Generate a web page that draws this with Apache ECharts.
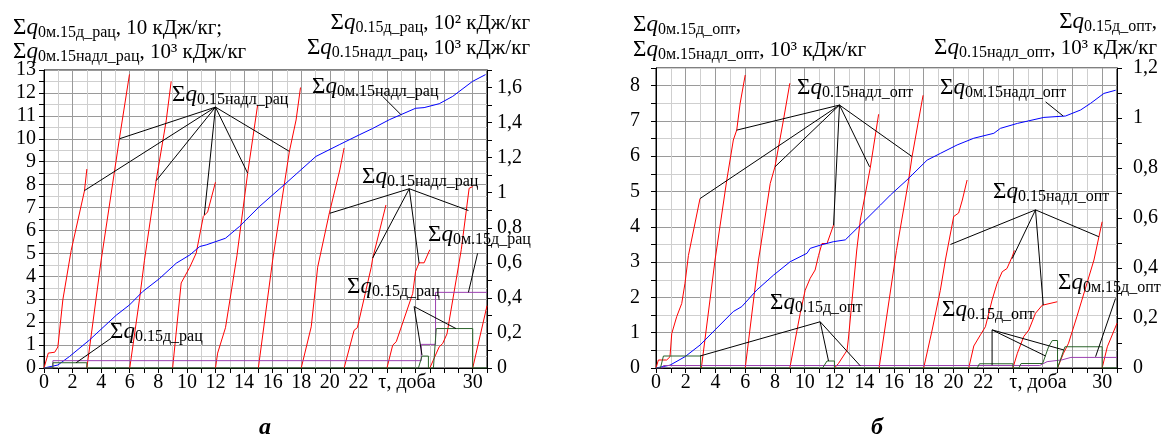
<!DOCTYPE html>
<html>
<head>
<meta charset="utf-8">
<script src="https://cdn.jsdelivr.net/npm/echarts@6/dist/echarts.min.js"></script>
<style>
html, body { margin: 0; padding: 0; background: #fff; }
#chart { width: 1165px; height: 440px; }
</style>
</head>
<body>
<div id="chart"></div>
<script>
const FONT = '"Liberation Serif", "DejaVu Serif", serif';

// підписи осі τ, що показані (24–28 замінено на "τ, доба")
const xShown = [0, 2, 4, 6, 8, 10, 12, 14, 16, 18, 20, 22, 30];

// ---------- панель а (рац) ----------
// Σq0.15надл_рац, 10^3 кДж/кг (права вісь), по відрізках по 3 доби
const redA = [
  [[0, 0], [0.3, 0.085], [0.75, 0.09], [0.97, 0.12], [1.32, 0.39], [1.9, 0.67], [2.83, 1.01], [3.0, 1.135]],
  [[3, 0], [4, 0.615], [5.28, 1.31], [5.98, 1.675]],
  [[6, 0], [6.68, 0.39], [7.03, 0.615], [7.85, 1.07], [8.55, 1.41], [8.9, 1.635]],
  [[9, 0], [9.6, 0.485], [10.2, 0.575], [10.65, 0.655], [11.15, 0.865], [11.45, 0.89], [12.0, 1.06]],
  [[12, 0], [12.15, 0.085], [12.7, 0.23], [13.2, 0.485], [13.5, 0.64], [14.25, 1.11], [14.95, 1.5]],
  [[15, 0], [16, 0.615], [17.17, 1.235], [17.64, 1.415], [17.95, 1.6]],
  [[18, 0], [18.7, 0.235], [19.15, 0.575], [19.97, 0.885], [20.7, 1.13], [21, 1.255]],
  [[21, 0], [21.7, 0.215], [21.93, 0.23], [22.9, 0.575], [23.0, 0.625], [23.93, 0.93]],
  [[24, 0], [24.4, 0.13], [24.65, 0.15], [25.8, 0.425], [26.0, 0.55], [26.25, 0.6], [26.6, 0.6], [27, 0.675]],
  [[27, 0], [27.65, 0.12], [27.9, 0.14], [28.2, 0.195], [29.2, 0.675], [29.75, 1.025], [30, 1.035]],
  [[30, 0], [31, 0.355]]
];
// Σq0м.15надл_рац, 10^3 кДж/кг (ліва вісь)
const blueA = [[0, 0], [0.97, 0.13], [1.78, 0.5], [3.18, 1.22], [5.05, 2.3], [5.98, 2.75], [6.9, 3.33], [8.08, 3.9],
  [9.25, 4.57], [10.2, 4.93], [10.9, 5.3], [11.35, 5.37], [12.7, 5.66], [13.67, 6.17], [15.07, 7.04], [16.93, 8.06],
  [19.03, 9.23], [20.66, 9.74], [22.06, 10.17], [23.0, 10.45], [24.16, 10.83], [26.0, 11.33], [26.6, 11.36],
  [27.66, 11.53], [28.6, 11.85], [29.98, 12.5], [30.9, 12.8]];
// Σq0м.15д_рац, 10 кДж/кг (ліва вісь)
const purpleA = [[0, 0], [0.62, 0], [0.62, 0.32], [26.4, 0.32], [26.4, 1.03], [27.4, 1.03], [27.4, 3.3], [31, 3.3]];
// Σq0.15д_рац, 10^2 кДж/кг (права вісь)
const greenA = [[0, 0], [0.62, 0], [0.62, 0.03], [3, 0.03], [3, 0], [26.2, 0], [26.45, 0.068], [26.9, 0.068], [26.9, 0],
  [27.25, 0], [27.45, 0.225], [30, 0.225], [30, 0], [31, 0]];

// ---------- панель б (опт) ----------
const redB = [
  [[0, 0], [0.16, 0.032], [0.72, 0.032], [0.94, 0.045], [1.06, 0.138], [1.39, 0.205], [1.73, 0.258], [1.95, 0.339], [2.18, 0.45], [2.96, 0.678]],
  [[3.05, 0], [3.97, 0.432], [4.76, 0.752], [5.2, 0.912], [5.43, 0.952], [5.66, 1.059], [6.0, 1.172]],
  [[6, 0], [6.89, 0.432], [7.0, 0.472], [7.68, 0.738], [8.0, 0.805], [8.57, 0.992], [9.0, 1.139]],
  [[9, 0], [9.7, 0.219], [10.03, 0.311], [10.37, 0.359], [10.7, 0.392], [10.93, 0.45], [11.16, 0.498], [11.5, 0.498], [11.94, 0.572]],
  [[12, 0], [12.27, 0.018], [12.85, 0.071], [12.95, 0.124], [13.5, 0.472], [13.74, 0.592], [14.4, 0.798], [14.97, 1.015]],
  [[15, 0], [16.17, 0.47], [16.97, 0.745], [17.22, 0.846], [17.66, 0.992], [17.96, 1.091]],
  [[18, 0], [18.57, 0.152], [19.12, 0.311], [19.46, 0.432], [20.02, 0.606], [20.35, 0.62], [20.6, 0.672], [20.92, 0.752]],
  [[21.03, 0], [21.37, 0.088], [21.5, 0.095], [21.82, 0.133], [22.15, 0.165], [22.6, 0.272], [22.94, 0.339], [23.28, 0.385], [23.6, 0.398], [23.95, 0.445], [24.1, 0.47]],
  [[24, 0], [24.3, 0.059], [24.73, 0.126], [25.07, 0.152], [25.52, 0.219], [25.97, 0.251], [26.98, 0.265]],
  [[27, 0], [27.4, 0.059], [27.74, 0.099], [28.3, 0.205], [28.98, 0.339], [29.45, 0.432], [30.0, 0.585]],
  [[30, 0], [30.35, 0.085], [31, 0.179]]
];
const blueB = [[0, 0], [0.94, 0.08], [1.95, 0.32], [2.96, 0.65], [3.97, 1.08], [5.2, 1.6], [5.77, 1.74], [6.78, 2.21],
  [7.9, 2.63], [9.02, 3.01], [10.15, 3.25], [10.37, 3.39], [11.04, 3.48], [11.94, 3.58], [12.73, 3.63], [13.62, 4.0],
  [15.1, 4.62], [15.76, 4.9], [16.88, 5.33], [18.23, 5.89], [19.12, 6.08], [20.25, 6.32], [21.37, 6.51], [22.72, 6.65],
  [23.16, 6.79], [24.3, 6.93], [26.08, 7.1], [27.54, 7.14], [28.55, 7.31], [29.23, 7.5], [30.12, 7.78], [30.91, 7.87]];
const purpleB = [[0, 0], [0.5, 0], [0.5, 0.07], [25.8, 0.07], [26.3, 0.18], [27.3, 0.23], [27.9, 0.3], [31, 0.3]];
const greenB = [[0, 0], [0.3, 0], [0.5, 0.048], [3, 0.048], [3, 0], [11.2, 0], [11.5, 0.028], [12, 0.028], [12, 0],
  [21.6, 0], [21.75, 0.017], [24, 0.017], [24, 0], [24.4, 0], [24.55, 0.018], [26, 0.018], [26.4, 0.085], [26.65, 0.11],
  [27, 0.11], [27, 0], [27.1, 0], [27.5, 0.085], [30, 0.085], [30, 0], [31, 0]];

// виноски (у одиницях лівої осі): вузол і кінці
const leadersA = [
  { hub: [12.0, 11.38], ends: [[2.83, 7.74], [5.28, 10.0], [7.85, 8.17], [11.22, 6.68], [14.25, 8.5], [17.17, 9.45]] },
  { hub: [25.56, 7.82], ends: [[20.0, 6.75], [22.99, 4.79], [26.25, 4.57], [29.7, 6.87]] },
  { hub: [23.7, 11.85], ends: [[24.98, 11.05]] },
  { hub: [4.7, 1.3], ends: [[2.25, 0.23]] },
  { hub: [25.9, 2.68], ends: [[26.45, 0.57], [28.83, 1.72]] },
  { hub: [30.34, 5.0], ends: [[29.7, 3.3]] }
];
const leadersB = [
  { hub: [12.34, 7.45], ends: [[2.96, 4.8], [5.43, 6.74], [8.0, 5.7], [11.94, 4.05], [14.36, 5.7], [17.22, 5.99]] },
  { hub: [26.2, 7.54], ends: [[27.38, 7.14]] },
  { hub: [25.52, 4.48], ends: [[19.8, 3.5], [23.95, 3.1], [26.04, 1.78], [29.78, 3.72]] },
  { hub: [11.04, 1.31], ends: [[2.96, 0.34], [11.6, 0.2], [13.74, 0.06]] },
  { hub: [22.6, 1.08], ends: [[22.6, 0.08], [26.2, 0.34], [27.43, 0.51]] },
  { hub: [30.9, 1.97], ends: [[29.56, 0.32]] }
];

const RED = '#ff0000', BLUE = '#0000ff', PURPLE = '#9b3fb0', GREEN = '#2a632a';

function line(data, color, xi, yi, z) {
  return {
    type: 'line', data: data, xAxisIndex: xi, yAxisIndex: yi,
    symbol: 'none', showSymbol: false, silent: true, animation: false, z: z || 2,
    lineStyle: { color: color, width: 1 }
  };
}

const series = [];
function panel(p, red, blue, purple, green, leaders) {
  const yl = p * 2, yr = p * 2 + 1;
  red.forEach(s => series.push(line(s, RED, p, yr, 3)));
  series.push(line(purple, PURPLE, p, yl, 4));
  series.push(line(green, GREEN, p, yr, 4));
  series.push(line(blue, BLUE, p, yl, 3));
  leaders.forEach(g => g.ends.forEach(e => series.push(line([g.hub, e], '#000', p, yl, 5))));
}
panel(0, redA, blueA, purpleA, greenA, leadersA);
panel(1, redB, blueB, purpleB, greenB, leadersB);

const comma = v => String(+v.toFixed(1)).replace('.', ',');
const AX = 20;

function xAxis(gi) {
  return {
    gridIndex: gi, type: 'value', min: 0, max: 31, interval: 1,
    axisLine: { show: true, onZero: false, lineStyle: { color: '#000' } },
    axisTick: { show: true, length: 5, lineStyle: { color: '#000' } },
    axisLabel: { color: '#000', fontFamily: FONT, fontSize: AX, margin: 5,
      formatter: v => xShown.indexOf(v) >= 0 ? String(v) : '' },
    splitLine: { show: true, lineStyle: { color: ['#9a9a9a', '#cfcfcf'], width: 1 } }
  };
}
function yLeft(gi, max, margin) {
  return {
    gridIndex: gi, type: 'value', min: 0, max: max, interval: 0.5, position: 'left',
    axisLine: { show: true, lineStyle: { color: '#000' } },
    axisTick: { show: true, length: 5, lineStyle: { color: '#000' } },
    axisLabel: { color: '#000', fontFamily: FONT, fontSize: AX, margin: margin,
      formatter: v => Number.isInteger(v) ? String(v) : '' },
    splitLine: { show: true, lineStyle: { color: ['#9a9a9a', '#cfcfcf'], width: 1 } }
  };
}
function yRight(gi, max, margin) {
  return {
    gridIndex: gi, type: 'value', min: 0, max: max, interval: 0.1, position: 'right',
    axisLine: { show: true, lineStyle: { color: '#000' } },
    axisTick: { show: true, length: 5, lineStyle: { color: '#000' } },
    axisLabel: { color: '#000', fontFamily: FONT, fontSize: AX, margin: margin,
      formatter: v => Math.round(v * 10) % 2 === 0 ? comma(v) : '' },
    splitLine: { show: false }
  };
}

// підписи з індексами
const rich = {
  s: { fontFamily: FONT, fontSize: 23, lineHeight: 26, color: '#000' },
  q: { fontFamily: FONT, fontSize: 23, fontStyle: 'italic', lineHeight: 26, color: '#000' },
  b: { fontFamily: FONT, fontSize: 16, verticalAlign: 'bottom', color: '#000' },
  t: { fontFamily: FONT, fontSize: 21, lineHeight: 26, color: '#000' }
};
const sig = (sub, tail) => '{s|Σ}{q|q}{b|' + sub + '}' + (tail ? '{t|' + tail + '}' : '');

function txt(x, y, text, align) {
  return { type: 'text', x: x, y: y, z: 100, silent: true,
    style: { text: text, rich: rich, align: align || 'left', verticalAlign: 'middle' } };
}
function plain(x, y, text, font) {
  return { type: 'text', x: x, y: y, z: 100, silent: true,
    style: { text: text, fill: '#000', font: font, align: 'center', verticalAlign: 'middle' } };
}

const graphic = [
  // панель а
  txt(13, 28, sig('0м.15д_рац', ', 10 кДж/кг;')),
  txt(13, 52, sig('0м.15надл_рац', ', 10³ кДж/кг')),
  txt(530, 23, sig('0.15д_рац', ', 10² кДж/кг'), 'right'),
  txt(530, 48, sig('0.15надл_рац', ', 10³ кДж/кг'), 'right'),
  txt(172, 95, sig('0.15надл_рац')),
  txt(312, 87, sig('0м.15надл_рац')),
  txt(362, 177, sig('0.15надл_рац')),
  txt(428, 235, sig('0м.15д_рац')),
  txt(110, 332, sig('0.15д_рац')),
  txt(347, 287, sig('0.15д_рац')),
  plain(407, 383, 'τ, доба', AX + 'px ' + FONT),
  plain(265, 428, 'а', 'italic bold 24px ' + FONT),
  // панель б
  txt(633, 25, sig('0м.15д_опт', ',')),
  txt(633, 50, sig('0м.15надл_опт', ', 10³ кДж/кг')),
  txt(1157, 22, sig('0.15д_опт', ','), 'right'),
  txt(1157, 48, sig('0.15надл_опт', ', 10³ кДж/кг'), 'right'),
  txt(797, 88, sig('0.15надл_опт')),
  txt(940, 88, sig('0м.15надл_опт')),
  txt(993, 192, sig('0.15надл_опт')),
  txt(770, 303, sig('0.15д_опт')),
  txt(942, 310, sig('0.15д_опт')),
  txt(1058, 283, sig('0м.15д_опт')),
  plain(1038, 383, 'τ, доба', AX + 'px ' + FONT),
  plain(877, 428, 'б', 'italic bold 24px ' + FONT)
];

const chart = echarts.init(document.getElementById('chart'));
chart.setOption({
  animation: false,
  backgroundColor: '#fff',
  grid: [
    { left: 44, right: 678, top: 70, bottom: 72, show: true, borderColor: '#000', borderWidth: 1 },
    { left: 656, right: 48, top: 68, bottom: 72, show: true, borderColor: '#000', borderWidth: 1 }
  ],
  xAxis: [xAxis(0), xAxis(1)],
  yAxis: [yLeft(0, 13, 8), yRight(0, 1.7, 10), yLeft(1, 8.5, 16), yRight(1, 1.2, 16)],
  series: series,
  graphic: graphic
});
</script>
</body>
</html>
